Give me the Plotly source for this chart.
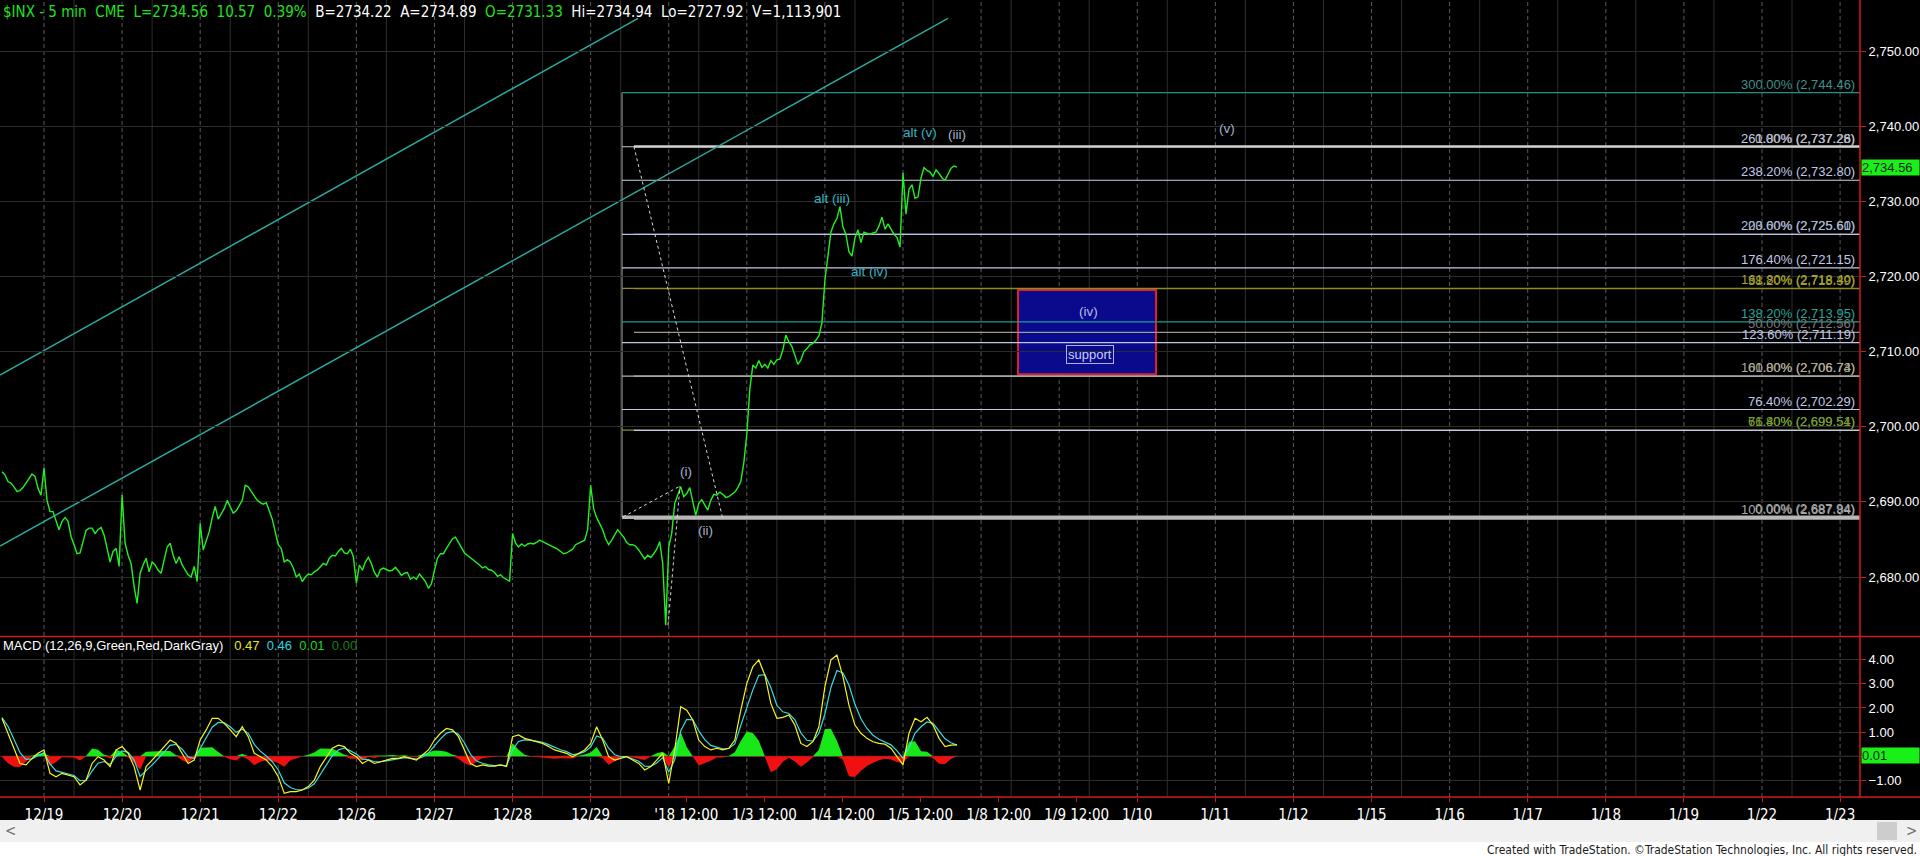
import plotly.graph_objects as go

# ---------------------------------------------------------------------------
# $INX 5-minute chart: price panel + MACD(12,26,9) panel on a session axis.
# x is measured in trading sessions (12/19 session open = 0), each regular
# session (9:30-16:00) occupies one unit; holidays/weekends are compressed.
# ---------------------------------------------------------------------------

SLOTS = 26            # 15-minute steps per session
MACD_SLOTS = 13       # 30-minute steps per session
NOON = 2.5 / 6.5      # 12:00 as a fraction of the session

# ---- price (15-minute samples) -------------------------------------------
px_1218 = [2694.0, 2693.6, 2692.7, 2692.5, 2692.0, 2691.4, 2691.5, 2691.9, 2692.5, 2693.1,
           2693.7, 2693.4, 2691.8, 2690.9]                      # from 12:30
px_1219 = [2694.5, 2690.2, 2688.7, 2688.7, 2687.6, 2686.3, 2687.4, 2687.9, 2687.4, 2685.4,
           2684.3, 2683.1, 2683.2, 2684.7, 2686.2, 2686.5, 2686.5, 2685.8, 2686.3, 2686.6,
           2685.6, 2683.8, 2682.0, 2683.4, 2683.8, 2681.4]
px_1220 = [2690.9, 2684.5, 2682.9, 2681.8, 2678.7, 2676.5, 2680.5, 2681.6, 2682.5, 2680.7,
           2682.0, 2681.6, 2680.9, 2680.5, 2682.5, 2684.0, 2684.5, 2682.9, 2681.8, 2682.7,
           2681.6, 2680.9, 2680.3, 2680.0, 2681.4, 2679.4]
px_1221 = [2687.1, 2683.6, 2684.7, 2686.0, 2687.9, 2689.4, 2687.7, 2688.5, 2689.1, 2690.2,
           2689.3, 2688.5, 2688.8, 2689.5, 2690.2, 2692.2, 2692.0, 2691.4, 2690.8, 2690.2,
           2689.9, 2689.7, 2689.9, 2688.9, 2687.7, 2686.0]
px_1222 = [2684.3, 2683.8, 2682.0, 2682.3, 2682.0, 2681.2, 2680.0, 2680.4, 2679.4, 2680.0,
           2680.4, 2680.3, 2680.7, 2680.9, 2681.3, 2681.8, 2681.6, 2682.5, 2682.9, 2682.8,
           2683.4, 2683.8, 2683.2, 2683.1, 2683.7, 2682.7]
px_1226 = [2679.2, 2681.6, 2680.9, 2682.0, 2682.6, 2681.8, 2680.6, 2680.0, 2681.0, 2681.2,
           2681.0, 2680.8, 2680.9, 2681.3, 2680.8, 2680.2, 2680.5, 2680.6, 2679.7, 2680.0,
           2679.7, 2680.4, 2679.9, 2679.4, 2678.5, 2679.1]
px_1227 = [2680.9, 2682.5, 2683.1, 2683.1, 2683.8, 2684.5, 2685.1, 2685.3, 2684.5, 2683.9,
           2683.2, 2682.9, 2682.6, 2682.3, 2682.0, 2681.6, 2681.2, 2681.4, 2681.0, 2680.9,
           2680.6, 2680.1, 2680.3, 2679.9, 2679.7, 2679.4]
px_1228 = [2685.8, 2684.5, 2684.0, 2684.4, 2684.1, 2684.4, 2684.5, 2684.4, 2684.6, 2684.9,
           2684.7, 2684.5, 2684.3, 2684.2, 2683.9, 2683.7, 2683.4, 2683.1, 2683.2, 2683.5,
           2683.7, 2684.3, 2684.5, 2684.7, 2684.9, 2686.3]
px_1229 = [2692.2, 2689.1, 2687.9, 2687.1, 2686.3, 2685.1, 2684.3, 2684.9, 2685.6, 2686.3,
           2685.8, 2685.3, 2684.6, 2684.3, 2684.3, 2684.1, 2683.6, 2682.9, 2682.4, 2682.9,
           2682.6, 2683.1, 2683.7, 2684.7, 2681.8, 2673.6]
px_0102 = [2684.0, 2685.8, 2689.8, 2690.9, 2692.0, 2690.7, 2691.1, 2691.9, 2690.0, 2688.2,
           2689.8, 2690.3, 2689.6, 2688.9, 2690.2, 2691.0, 2690.9, 2691.3, 2691.0, 2690.6,
           2690.7, 2691.0, 2691.3, 2691.9, 2692.7, 2695.2]
px_0103 = [2699.0, 2705.0, 2708.2, 2707.8, 2708.8, 2707.9, 2708.3, 2707.8, 2708.8, 2708.3,
           2708.9, 2709.0, 2710.2, 2712.2, 2711.3, 2710.7, 2709.5, 2708.3, 2708.9, 2710.0,
           2710.4, 2710.9, 2711.1, 2711.5, 2712.1, 2713.8]
px_0104 = [2719.5, 2722.6, 2725.9, 2727.0, 2727.7, 2729.3, 2726.6, 2725.6, 2723.3, 2722.7,
           2725.1, 2726.2, 2724.5, 2725.9, 2725.7, 2725.6, 2725.8, 2725.9, 2726.7, 2727.9,
           2726.3, 2727.0, 2726.3, 2725.6, 2725.2, 2723.9]
px_0105 = [2733.8, 2728.3, 2731.6, 2732.2, 2730.4, 2730.6, 2733.1, 2734.5, 2734.1, 2733.9,
           2733.3, 2734.2, 2733.7, 2733.1, 2732.8, 2733.6, 2734.4, 2734.7, 2734.56]

# (session index, first 15-min slot, samples)
price_sessions = [(-1, 12, px_1218), (0, 0, px_1219), (1, 0, px_1220), (2, 0, px_1221),
                  (3, 0, px_1222), (4, 0, px_1226), (5, 0, px_1227), (6, 0, px_1228),
                  (7, 0, px_1229), (8, 0, px_0102), (9, 0, px_0103), (10, 0, px_0104),
                  (11, 0, px_0105)]

# ---- MACD (30-minute samples starting 12/18 12:30) ------------------------
macd_line = [1.57, 0.95, 0.26, -0.30, -0.36, -0.09, 0.12, 0.26, -0.71, -0.85,
             -0.71, -0.78, -0.85, -1.19, -0.99, -0.30, -0.02, -0.16, -0.43, 0.26,
             0.40, 0.12, -0.43, -1.40, -0.43, -0.16, 0.12, 0.40, 0.67, 0.53,
             0.12, -0.30, -0.16, 0.67, 1.09, 1.57, 1.57, 1.36, 1.09, 0.81,
             1.22, 0.81, 0.12, -0.02, -0.16, -0.43, -0.85, -1.54, -1.47, -1.47,
             -1.40, -1.26, -0.99, -0.43, -0.02, 0.33, 0.46, 0.40, 0.12, -0.02,
             -0.30, -0.16, -0.30, -0.23, -0.16, -0.09, -0.09, -0.02, -0.09, -0.16,
             0.05, 0.26, 0.67, 0.95, 1.15, 1.09, 0.81, 0.26, -0.30, -0.43,
             -0.36, -0.41, -0.41, -0.36, -0.43, 0.81, 0.88, 0.74, 0.67, 0.60,
             0.53, 0.40, 0.26, 0.19, 0.12, -0.02, 0.12, 0.26, 0.53, 1.22,
             0.67, -0.02, -0.16, -0.09, -0.02, -0.16, -0.30, -0.57, -0.43, -0.16,
             0.12, -1.13, 0.26, 2.05, 1.91, 1.50, 0.67, 0.40, 0.26, 0.33,
             0.26, 0.33, 0.67, 1.91, 3.02, 3.71, 3.99, 3.36, 2.19, 1.57,
             1.61, 1.71, 1.29, 0.53, 0.40, 0.60, 1.22, 2.88, 3.99, 4.19,
             3.30, 2.12, 1.29, 0.95, 0.74, 0.60, 0.53, 0.50, 0.33, -0.02,
             -0.36, 0.95, 1.57, 1.43, 1.61, 1.29, 0.74, 0.40, 0.46, 0.47]
macd_avg = [1.60, 1.24, 0.70, 0.15, -0.13, -0.11, 0.02, 0.15, -0.32, -0.61,
            -0.67, -0.73, -0.80, -1.01, -1.00, -0.62, -0.29, -0.22, -0.34, -0.01,
            0.22, 0.16, -0.16, -0.84, -0.61, -0.36, -0.10, 0.18, 0.45, 0.49,
            0.29, -0.03, -0.10, 0.32, 0.74, 1.20, 1.40, 1.38, 1.22, 0.99,
            1.12, 0.95, 0.49, 0.21, 0.01, -0.23, -0.57, -1.10, -1.30, -1.39,
            -1.39, -1.32, -1.14, -0.75, -0.35, 0.02, 0.26, 0.34, 0.22, 0.09,
            -0.12, -0.14, -0.23, -0.23, -0.19, -0.14, -0.11, -0.06, -0.08, -0.12,
            -0.03, 0.13, 0.43, 0.72, 0.96, 1.03, 0.91, 0.55, 0.08, -0.20,
            -0.29, -0.36, -0.39, -0.37, -0.40, 0.27, 0.61, 0.68, 0.67, 0.63,
            0.58, 0.48, 0.36, 0.27, 0.19, 0.07, 0.10, 0.19, 0.38, 0.84,
            0.75, 0.33, 0.06, -0.02, -0.02, -0.10, -0.21, -0.41, -0.42, -0.28,
            -0.06, -0.65, -0.15, 1.06, 1.53, 1.51, 1.05, 0.69, 0.45, 0.38,
            0.31, 0.32, 0.51, 1.28, 2.00, 2.75, 3.35, 3.38, 2.85, 2.11,
            1.84, 1.77, 1.51, 0.97, 0.66, 0.63, 0.95, 1.75, 2.85, 3.55,
            3.45, 2.95, 2.15, 1.55, 1.15, 0.87, 0.70, 0.60, 0.47, 0.22,
            -0.08, 0.35, 0.95, 1.22, 1.42, 1.36, 1.05, 0.72, 0.56, 0.46]
MACD_START = (-1, 6)   # session, 30-minute slot

# ---- axis labels ----------------------------------------------------------
axis_labels = ["12/19", "12/20", "12/21", "12/22", "12/26", "12/27", "12/28", "12/29",
               "'18 12:00", "1/3 12:00", "1/4 12:00", "1/5 12:00", "1/8 12:00", "1/9 12:00",
               "1/10", "1/11", "1/12", "1/15", "1/16", "1/17", "1/18", "1/19", "1/22", "1/23"]
price_ticks = [2680, 2690, 2700, 2710, 2720, 2730, 2740, 2750]
macd_ticks = [-1, 0, 1, 2, 3, 4]

# ---- Fibonacci levels -----------------------------------------------------
fib_ext_pct = [300.0, 261.8, 238.2, 200.0, 176.4, 161.8, 138.2, 123.6, 100.0, 76.4, 61.8, 0.0]
fib_ext_val = [2744.46, 2737.26, 2732.80, 2725.60, 2721.15, 2718.40, 2713.95, 2711.19,
               2706.74, 2702.29, 2699.54, 2687.94]
fib_ret_pct = [0.0, 23.6, 38.2, 50.0, 61.8, 76.4, 100.0]
fib_ret_val = [2737.28, 2725.61, 2718.39, 2712.56, 2706.73, 2699.51, 2687.84]

last_price = 2734.56
last_hist = 0.01

# ---------------------------------------------------------------------------
X0, X1 = -0.5635, 23.255
P0, P1 = 2672.15, 2756.79
M0, M1 = -1.69, 4.94
PLOT_R, PLOT_B = 1860.0, 797.0
FULL_W = 1920.0

NARROW = "Liberation Sans Narrow, Arial Narrow, DejaVu Sans Condensed, sans-serif"
SANS = "Liberation Sans, Arial, sans-serif"


def paper_x(px):
    return px / PLOT_R


def paper_y(py):
    return (PLOT_B - py) / PLOT_B


# price series
price_x, price_y = [], []
for sess, first, vals in price_sessions:
    for k, v in enumerate(vals):
        price_x.append(sess + (first + k) / SLOTS)
        price_y.append(v)

# MACD series
macd_x = [MACD_START[0] + (MACD_START[1] + n) / MACD_SLOTS for n in range(len(macd_line))]
hist = [round(a - b, 3) for a, b in zip(macd_line, macd_avg)]
hist_pos = [h if h > 0 else 0 for h in hist]
hist_neg = [h if h < 0 else 0 for h in hist]

fig = go.Figure()

fig.add_trace(go.Scatter(x=macd_x, y=hist_pos, xaxis="x", yaxis="y2", mode="lines",
                         line=dict(width=0, color="#18E818"), fill="tozeroy",
                         fillcolor="#18E818", hoverinfo="skip"))
fig.add_trace(go.Scatter(x=macd_x, y=hist_neg, xaxis="x", yaxis="y2", mode="lines",
                         line=dict(width=0, color="#F01010"), fill="tozeroy",
                         fillcolor="#F01010", hoverinfo="skip"))
fig.add_trace(go.Scatter(x=macd_x, y=macd_avg, xaxis="x", yaxis="y2", mode="lines",
                         line=dict(width=1.2, color="#38DCE0"), hoverinfo="skip"))
fig.add_trace(go.Scatter(x=macd_x, y=macd_line, xaxis="x", yaxis="y2", mode="lines",
                         line=dict(width=1.2, color="#F4F420"), hoverinfo="skip"))
fig.add_trace(go.Scatter(x=price_x, y=price_y, xaxis="x", yaxis="y", mode="lines",
                         line=dict(width=1.4, color="#22F022"), hoverinfo="skip"))

shapes = []

# vertical grid: dashed at session opens, solid at 12:00
for d in range(24):
    shapes.append(dict(type="line", xref="x", yref="paper", x0=d, x1=d, y0=0, y1=1,
                       line=dict(color="#5A5A5A", width=1, dash="4px,3px"), layer="below"))
    if d + NOON < X1:
        shapes.append(dict(type="line", xref="x", yref="paper", x0=d + NOON, x1=d + NOON,
                           y0=0, y1=1, line=dict(color="#2E2E2E", width=1), layer="below"))

# MACD zero line
shapes.append(dict(type="line", xref="x", yref="y2", x0=X0, x1=X1, y0=0, y1=0,
                   line=dict(color="#3A3A3A", width=1), layer="below"))

# support zone for wave (iv)
shapes.append(dict(type="rect", xref="x", yref="y", x0=12.473, x1=14.24, y0=2707.0, y1=2718.2,
                   fillcolor="#0A0A8C", line=dict(color="#E0202C", width=2), layer="below"))

EXT_START, RET_START = 7.402, 7.555
ext_line_col = ["#23918A", "#C4C8D4", "#C8D0E8", "#B8C2E0", "#C0C8E8", "#8C8C22",
                "#1F9C94", "#C0C8E8", "#B0B0AC", "#C0C8E8", "#8C8C22", "#B4B4B4"]
ext_text_col = ["#3F8E8E", "#C5CBE0", "#C0C8E8", "#B8C2E0", "#C0C8E8", "#A8A030",
                "#2AA39A", "#C0C8E8", "#A8A8A0", "#C0C8E8", "#8E9A30", "#A0A0A0"]
ret_line_col = ["#D0D0D0", "#B8C2E0", "#8C8C22", "#9A9A9A", "#B0B0AC", "#C0C8E8", "#B8B8B8"]
ret_text_col = ["#B8B8C0", "#A8B0C8", "#A0A030", "#7C7C7C", "#B0A890", "#6E9E30", "#A8A8A8"]

# extension box edge
shapes.append(dict(type="line", xref="x", yref="y", x0=EXT_START, x1=EXT_START,
                   y0=fib_ext_val[-1], y1=fib_ext_val[0],
                   line=dict(color="#A8A8A8", width=1), layer="below"))
for v, c in zip(fib_ext_val, ext_line_col):
    w = 3.5 if v == fib_ext_val[-1] else 1.2
    shapes.append(dict(type="line", xref="x", yref="y", x0=EXT_START, x1=X1, y0=v, y1=v,
                       line=dict(color=c, width=w), layer="below"))
for pct, v, c in zip(fib_ret_pct, fib_ret_val, ret_line_col):
    w = 1.2
    if pct == 0.0:
        w = 2.5
    elif pct == 100.0:
        w = 3.5
    shapes.append(dict(type="line", xref="x", yref="y", x0=RET_START, x1=X1, y0=v, y1=v,
                       line=dict(color=c, width=w), layer="below"))

# channel lines
for (xa, ya, xb, yb) in [(X0, 2706.88, 7.607, 2754.35), (X0, 2684.12, 11.576, 2754.35)]:
    shapes.append(dict(type="line", xref="x", yref="y", x0=xa, y0=ya, x1=xb, y1=yb,
                       line=dict(color="#2BA89E", width=1.5), layer="below"))

# Fibonacci anchor legs
for (xa, ya, xb, yb) in [(7.415, 2688.0, 8.144, 2692.1), (7.991, 2673.6, 8.144, 2692.1),
                         (7.555, 2737.28, 8.689, 2687.9)]:
    shapes.append(dict(type="line", xref="x", yref="y", x0=xa, y0=ya, x1=xb, y1=yb,
                       line=dict(color="#D8D8D8", width=1, dash="3px,3px"), layer="above"))

# panel frame (red)
red = "#D41A1A"
shapes.append(dict(type="line", xref="paper", yref="paper", x0=1, x1=1, y0=0, y1=1,
                   line=dict(color=red, width=1.5), layer="above"))
shapes.append(dict(type="line", xref="paper", yref="paper", x0=0, x1=paper_x(FULL_W),
                   y0=paper_y(636.5), y1=paper_y(636.5), line=dict(color=red, width=1.5),
                   layer="above"))
shapes.append(dict(type="line", xref="paper", yref="paper", x0=0, x1=paper_x(FULL_W),
                   y0=0, y1=0, line=dict(color=red, width=1.5), layer="above"))

# scroll bar and footer strip
shapes.append(dict(type="rect", xref="paper", yref="paper", x0=0, x1=paper_x(FULL_W),
                   y0=paper_y(842), y1=paper_y(820), fillcolor="#F0F0F0", line=dict(width=0),
                   layer="above"))
shapes.append(dict(type="rect", xref="paper", yref="paper", x0=0, x1=paper_x(FULL_W),
                   y0=paper_y(857), y1=paper_y(842), fillcolor="#FFFFFF", line=dict(width=0),
                   layer="above"))
shapes.append(dict(type="rect", xref="paper", yref="paper", x0=paper_x(1877), x1=paper_x(1897),
                   y0=paper_y(840), y1=paper_y(822), fillcolor="#CDCDCD", line=dict(width=0),
                   layer="above"))

annotations = []

# header lines
G, Wt = "#22E022", "#FFFFFF"
sp = "\u00a0\u00a0"
header = (f"<span style='color:{G}'>$INX - 5 min{sp}CME{sp}L=2734.56{sp}10.57{sp}0.39%</span>{sp}"
          f"<span style='color:{Wt}'>B=2734.22{sp}A=2734.89</span>{sp}"
          f"<span style='color:{G}'>O=2731.33</span>{sp}"
          f"<span style='color:{Wt}'>Hi=2734.94{sp}Lo=2727.92{sp}V=1,113,901</span>")
annotations.append(dict(text=header, xref="paper", yref="paper", x=paper_x(1), y=paper_y(12.5),
                        xanchor="left", yanchor="middle", showarrow=False,
                        font=dict(family=NARROW, size=15, color=Wt)))
macd_head = ("<span style='color:#FFFFFF'>MACD (12,26,9,Green,Red,DarkGray)</span>\u00a0\u00a0\u00a0"
             "<span style='color:#E8E820'>0.47</span>\u00a0\u00a0"
             "<span style='color:#28D8E0'>0.46</span>\u00a0\u00a0"
             "<span style='color:#22D822'>0.01</span>\u00a0\u00a0"
             "<span style='color:#1E7A1E'>0.00</span>")
annotations.append(dict(text=macd_head, xref="paper", yref="paper", x=paper_x(1), y=paper_y(645),
                        xanchor="left", yanchor="middle", showarrow=False,
                        font=dict(family=SANS, size=13, color=Wt)))

# Fibonacci labels (right aligned at the chart edge)
LABEL_X = 23.204
for pct, v, c in zip(fib_ext_pct, fib_ext_val, ext_text_col):
    annotations.append(dict(text=f"{pct:.2f}% ({v:,.2f})", xref="x", yref="y", x=LABEL_X, y=v,
                            xanchor="right", yanchor="bottom", showarrow=False, borderpad=0,
                            font=dict(family=SANS, size=13, color=c)))
for pct, v, c in zip(fib_ret_pct, fib_ret_val, ret_text_col):
    annotations.append(dict(text=f"{pct:.2f}% ({v:,.2f})", xref="x", yref="y", x=LABEL_X, y=v,
                            xanchor="right", yanchor="bottom", showarrow=False, borderpad=0,
                            font=dict(family=SANS, size=13, color=c)))

# wave counts
TEAL, LAV = "#34B4C0", "#A8B0CC"
waves = [("alt (v)", 11.218, 2739.22, TEAL), ("(iii)", 11.688, 2738.91, LAV),
         ("alt (iii)", 10.095, 2730.40, TEAL), ("alt (iv)", 10.565, 2720.63, TEAL),
         ("(v)", 15.149, 2739.67, LAV), ("(i)", 8.221, 2694.01, LAV),
         ("(ii)", 8.472, 2686.16, LAV), ("(iv)", 13.378, 2715.40, "#B4BCE8")]
for t, x, y, c in waves:
    annotations.append(dict(text=t, xref="x", yref="y", x=x, y=y, xanchor="center",
                            yanchor="middle", showarrow=False,
                            font=dict(family=SANS, size=13.5, color=c)))
annotations.append(dict(text="support", xref="x", yref="y", x=13.394, y=2709.61,
                        xanchor="center", yanchor="middle", showarrow=False,
                        bordercolor="#A8B4E8", borderwidth=1, borderpad=1,
                        font=dict(family=SANS, size=13, color="#C8D0F0")))

# last-value markers on the scales
annotations.append(dict(text=f"{last_price:,.2f}", xref="paper", yref="y", x=paper_x(1861),
                        y=last_price, xanchor="left", yanchor="middle", showarrow=False,
                        bgcolor="#18F018", width=57, align="left", borderpad=0,
                        font=dict(family=SANS, size=13, color="#1E1E1E")))
annotations.append(dict(text=f"{last_hist:.2f}", xref="paper", yref="y2", x=paper_x(1861),
                        y=last_hist, xanchor="left", yanchor="middle", showarrow=False,
                        bgcolor="#18F018", width=57, align="left", borderpad=0,
                        font=dict(family=SANS, size=13, color="#1E1E1E")))

# scroll arrows and credit line
annotations.append(dict(text="<", xref="paper", yref="paper", x=paper_x(3), y=paper_y(831),
                        xanchor="left", yanchor="middle", showarrow=False,
                        font=dict(family=NARROW, size=15, color="#707070")))
annotations.append(dict(text=">", xref="paper", yref="paper", x=paper_x(1904), y=paper_y(831),
                        xanchor="left", yanchor="middle", showarrow=False,
                        font=dict(family=NARROW, size=15, color="#707070")))
annotations.append(dict(text="Created with TradeStation. \u00a9TradeStation Technologies, Inc. All rights reserved.",
                        xref="paper", yref="paper", x=paper_x(1919), y=paper_y(849.5),
                        xanchor="right", yanchor="middle", showarrow=False,
                        font=dict(family=NARROW, size=12, color="#1A1A1A")))

tick_pos = [i + (NOON - 0.16 if "12:00" in lab else 0.0) for i, lab in enumerate(axis_labels)]

fig.update_layout(
    width=1920, height=856,
    margin=dict(l=0, r=60, t=0, b=59, pad=0),
    paper_bgcolor="#000000", plot_bgcolor="rgba(0,0,0,0)",
    showlegend=False, hovermode=False,
    xaxis=dict(domain=[0, 1], range=[X0, X1], anchor="y2", tickmode="array",
               tickvals=tick_pos, ticktext=axis_labels, ticks="outside", ticklen=4,
               tickcolor=red, tickfont=dict(family=NARROW, size=15, color="#FFFFFF"),
               showgrid=False, zeroline=False, showline=False, automargin=False,
               fixedrange=True),
    yaxis=dict(domain=[paper_y(636), 1], range=[P0, P1], side="right", anchor="x",
               tickmode="array", tickvals=price_ticks, tickformat=",.2f", ticks="outside",
               ticklen=5, tickcolor=red, tickfont=dict(family=SANS, size=13, color="#FFFFFF"),
               showgrid=True, gridcolor="#2C2C2C", gridwidth=1, zeroline=False,
               showline=False, automargin=False, fixedrange=True),
    yaxis2=dict(domain=[0, paper_y(637)], range=[M0, M1], side="right", anchor="x",
                tickmode="array", tickvals=macd_ticks, tickformat=".2f", ticks="outside",
                ticklen=5, tickcolor=red, tickfont=dict(family=SANS, size=13, color="#FFFFFF"),
                showgrid=True, gridcolor="#2C2C2C", gridwidth=1, zeroline=False,
                showline=False, automargin=False, fixedrange=True),
    shapes=shapes,
    annotations=annotations,
)

fig.write_html("out.html", config={"displayModeBar": False})
